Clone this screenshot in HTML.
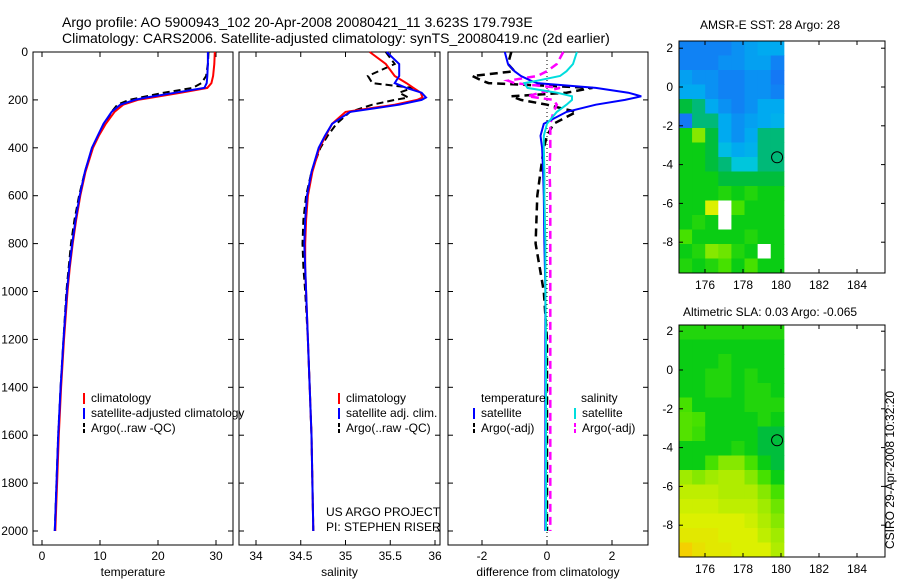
<!DOCTYPE html>
<html><head><meta charset="utf-8"><style>
body{margin:0;background:#fff;width:900px;height:580px;overflow:hidden;font-family:"Liberation Sans",sans-serif}
svg{display:block}
text{font-family:"Liberation Sans",sans-serif;fill:#000}
</style></head><body>
<svg id="c" width="900" height="580"></svg>
<script>
// ---- data ----
const depths=[0,50,100,130,150,170,190,200,220,250,300,350,400,500,600,700,800,900,1000,1200,1400,1600,1800,2000];
const tClim=[29.8,29.7,29.5,29.2,28.5,24,19,16.5,14,12.5,11,9.8,8.8,7.5,6.6,5.9,5.3,4.8,4.4,3.8,3.3,2.9,2.6,2.3];
const tSat=[28.6,28.6,28.5,28.4,28,23,18,16,13.5,12,10.6,9.6,8.6,7.4,6.5,5.8,5.2,4.7,4.3,3.7,3.2,2.8,2.5,2.2];
const tArgo=[28.7,28.6,28.3,27.5,26,21,17,15,13,12,10.8,9.7,8.7,7.4,6.4,5.6,5.0,4.6,4.2,3.7,3.2,2.8,2.5,2.2];
const sClim=[35.27,35.45,35.55,35.68,35.76,35.84,35.86,35.8,35.55,35.0,34.85,34.78,34.71,34.63,34.58,34.56,34.55,34.55,34.56,34.58,34.6,34.62,34.63,34.64];
const sSat=[35.46,35.6,35.6,35.55,35.68,35.85,35.9,35.85,35.6,35.05,34.85,34.77,34.7,34.62,34.57,34.55,34.54,34.55,34.56,34.58,34.6,34.62,34.63,34.64];
const sArgo=[35.45,35.55,35.25,35.3,35.75,35.6,35.7,35.55,35.3,35.05,34.9,34.8,34.72,34.62,34.56,34.53,34.52,34.53,34.55,34.58,34.6,34.62,34.63,34.64];
const dDepths=[0,50,80,100,120,130,150,170,185,200,220,250,300,350,400,500,600,800,1000,1200,1500,2000];
const dTsat=[-1.3,-1.2,-1.0,-0.8,-0.5,-0.3,1.5,2.5,2.9,2.4,1.5,0.6,-0.1,-0.2,-0.15,-0.12,-0.1,-0.08,-0.05,-0.05,-0.05,-0.05];
const dSsat=[0.92,0.8,0.6,0.4,-0.3,-0.7,-0.6,0.3,0.77,0.77,0.6,0.3,0,-0.1,-0.1,-0.08,-0.08,-0.05,-0.05,-0.03,-0.03,-0.03];
const dTargo=[-1.1,-1.2,-1.0,-2.3,-2.0,-1.8,1.4,0.6,-1.1,-0.8,0,0.9,0.2,0,-0.1,-0.2,-0.3,-0.35,-0.1,0,0,0];
const dSargo=[0.5,0.3,0,-0.3,-1.2,-1.0,0.4,-0.2,-0.6,0.2,0.3,0.2,0.1,0.1,0.1,0.08,0.1,0.1,0.1,0.1,0.1,0.1];
const depthTicks=[0,200,400,600,800,1000,1200,1400,1600,1800,2000];
const tTicks=[0,10,20,30];
const sTicks=[34,34.5,35,35.5,36];
const dTicks=[-2,0,2];
// map grids: rows lat 2.3 -> -9.65, cols lon 174.63 -> 180.15; -1 = no data (white)
const sstGrid=[
[.22,.22,.22,.22,.25,.28,.3,.3],
[.22,.22,.22,.25,.25,.28,.28,.22],
[.28,.25,.25,.22,.22,.25,.25,.2],
[.3,.3,.25,.22,.22,.25,.25,.22],
[.48,.45,.3,.25,.22,.25,.3,.3],
[.2,.45,.45,.3,.25,.28,.3,.32],
[.5,.6,.48,.3,.25,.3,.45,.45],
[.5,.5,.48,.35,.3,.32,.45,.45],
[.5,.5,.48,.45,.38,.38,.45,.45],
[.5,.5,.5,.48,.48,.48,.48,.48],
[.5,.5,.5,.52,.5,.52,.5,.5],
[.5,.5,.7,-1,.55,.5,.5,.5],
[.5,.52,.5,-1,.5,.5,.5,.5],
[.55,.5,.5,.5,.5,.52,.5,.5],
[.5,.52,.6,.58,.52,.5,-1,.5],
[.52,.5,.52,.55,.5,.55,.5,.5]];
const slaGrid=[
[.52,.52,.52,.52,.52,.52,.52,.52],
[.5,.5,.5,.5,.5,.5,.5,.5],
[.5,.5,.5,.52,.5,.5,.5,.5],
[.5,.5,.52,.52,.5,.52,.5,.5],
[.5,.5,.52,.52,.5,.52,.52,.5],
[.55,.5,.5,.5,.5,.52,.52,.52],
[.56,.55,.5,.5,.5,.5,.52,.5],
[.56,.54,.5,.5,.5,.5,.48,.48],
[.5,.5,.5,.5,.52,.5,.48,.48],
[.5,.5,.55,.6,.6,.55,.5,.48],
[.62,.6,.62,.64,.64,.6,.55,.5],
[.66,.66,.66,.64,.64,.64,.6,.55],
[.68,.68,.68,.66,.66,.66,.62,.58],
[.7,.7,.7,.7,.7,.68,.64,.6],
[.72,.72,.72,.7,.7,.7,.66,.62],
[.78,.74,.72,.72,.7,.7,.7,.64]];
const lonTicks=[176,178,180,182,184];
const latTicks=[2,0,-2,-4,-6,-8];

// ---- drawing ----
const S=document.getElementById('c');const NS='http://www.w3.org/2000/svg';
function el(t,a,p){const e=document.createElementNS(NS,t);for(const k in a)e.setAttribute(k,a[k]);(p||S).appendChild(e);return e;}
function txt(x,y,s,sz,anchor,p){const e=el('text',{x:x,y:y,'font-size':sz||12,'text-anchor':anchor||'start'},p);e.textContent=s;return e;}
const pTop=52,pBot=545;
const yD=d=>52+d*0.2395;
function panel(name,x0,x1,xf,ticks,fmt,xlabel,showY){
  const g=el('g',{});
  
  
  el('rect',{x:x0,y:pTop,width:x1-x0,height:pBot-pTop,fill:'none',stroke:'#000','stroke-width':1},g);
  ticks.forEach(v=>{const x=xf(v);el('line',{x1:x,x2:x,y1:pBot,y2:pBot-5,stroke:'#000'},g);el('line',{x1:x,x2:x,y1:pTop,y2:pTop+5,stroke:'#000'},g);txt(x,560,fmt(v),12,'middle',g);});
  depthTicks.forEach(d=>{const y=yD(d);el('line',{x1:x0,x2:x0+5,y1:y,y2:y,stroke:'#000'},g);el('line',{x1:x1,x2:x1-5,y1:y,y2:y,stroke:'#000'},g);if(showY)txt(x0-5,y+4,String(d),12,'end',g);});
  const xl=txt((x0+x1)/2,576,xlabel,12,'middle',g);
  return g;
}
function line(g,name,ds,vals,xf,color,dash,w){
  const pts=vals.map((v,i)=>xf(v).toFixed(1)+','+yD(ds[i]).toFixed(1)).join(' ');
  const p=el('polyline',{points:pts,fill:'none',stroke:color,'stroke-width':w||2,'stroke-dasharray':dash||'none'},g);
  
  
}
const xT=v=>42+v*5.8, xS=v=>256+(v-34)*89.5, xDf=v=>547+v*32.5;
const g1=panel('temperature-panel',33,233,xT,tTicks,String,'temperature',true);
line(g1,'temp-argo-line',depths,tArgo,xT,'#000','7,4');
line(g1,'temp-climatology-line',depths,tClim,xT,'#f00');
line(g1,'temp-satellite-line',depths,tSat,xT,'#00f');
const g2=panel('salinity-panel',239,440,xS,sTicks,v=>String(v),'salinity',false);
line(g2,'sal-argo-line',depths,sArgo,xS,'#000','7,4');
line(g2,'sal-climatology-line',depths,sClim,xS,'#f00');
line(g2,'sal-satellite-line',depths,sSat,xS,'#00f');
const g3=panel('difference-panel',448,648,xDf,dTicks,String,'difference from climatology',false);
el('line',{x1:xDf(0),x2:xDf(0),y1:pTop,y2:pBot,stroke:'#000','stroke-dasharray':'1,3'},g3);
line(g3,'dtemp-argo-line',dDepths,dTargo,xDf,'#000','8,5',2.5);
line(g3,'dsal-argo-line',dDepths,dSargo,xDf,'#f0f','8,5',2.5);
line(g3,'dtemp-satellite-line',dDepths,dTsat,xDf,'#00f');
line(g3,'dsal-satellite-line',dDepths,dSsat,xDf,'#0dd');
function leg(g,name,x,y,color,dash,label){const l=el('line',{x1:x,x2:x,y1:y-9,y2:y+2,stroke:color,'stroke-width':2,'stroke-dasharray':dash||'none'},g);const t=txt(x+7,y,label,12,'start',g);}
leg(g1,'legend-climatology',84,402,'#f00','', 'climatology');
leg(g1,'legend-satellite',84,417,'#00f','', 'satellite-adjusted climatology');
leg(g1,'legend-argo',84,432,'#000','4,2','Argo(..raw -QC)');
leg(g2,'legend-sal-climatology',339,402,'#f00','','climatology');
leg(g2,'legend-sal-satellite',339,417,'#00f','','satellite adj. clim.');
leg(g2,'legend-sal-argo',339,432,'#000','4,2','Argo(..raw -QC)');
txt(481,402,'temperature',12,'start',g3);txt(581,402,'salinity',12,'start',g3);
leg(g3,'legend-dtemp-satellite',474,417,'#00f','','satellite');
leg(g3,'legend-dtemp-argo',474,432,'#000','4,2','Argo(-adj)');
leg(g3,'legend-dsal-satellite',575,417,'#0dd','','satellite');
leg(g3,'legend-dsal-argo',575,432,'#f0f','4,2','Argo(-adj)');
txt(326,516,'US ARGO PROJECT',12,'start',g2);txt(326,531,'PI: STEPHEN RISER',12,'start',g2);
const t1=txt(62,27,'Argo profile: AO 5900943_102 20-Apr-2008 20080421_11 3.623S 179.793E',14);
const t2=txt(62,43,'Climatology: CARS2006. Satellite-adjusted climatology: synTS_20080419.nc (2d earlier)',14);
const stops=[[0,[0,60,220]],[.2,[20,120,245]],[.3,[0,170,240]],[.4,[0,205,215]],[.45,[0,185,120]],[.48,[0,190,60]],[.5,[10,205,20]],[.55,[70,225,0]],[.62,[160,235,0]],[.7,[220,240,0]],[.8,[250,200,0]],[1,[230,60,0]]];
function cmap(v){if(v<0)return '#fff';for(let i=1;i<stops.length;i++){if(v<=stops[i][0]){const a=stops[i-1],b=stops[i],f=(v-a[0])/(b[0]-a[0]);return 'rgb('+a[1].map((c,k)=>Math.round(c+(b[1][k]-c)*f)).join(',')+')';}}return 'rgb(230,60,0)';}
function drawMap(name,y0,y1,lat0,grid,title,titleY){
  const g=el('g',{});
  
  
  const x0=679,x1=885;
  const xL=lon=>705+(lon-176)*19, yL=lat=>lat0-lat*19.4;
  const lonA=174.63,lonB=180.15,latA=(lat0-y0)/19.4,latB=(lat0-y1)/19.4;
  const rows=grid.length,cols=grid[0].length,cw=(lonB-lonA)/cols,rh=(latA-latB)/rows;
  grid.forEach((r,i)=>r.forEach((v,j)=>{const c=el('rect',{x:xL(lonA+j*cw),y:yL(latA-i*rh),width:xL(lonA+(j+1)*cw)-xL(lonA+j*cw)+0.5,height:yL(latA-(i+1)*rh)-yL(latA-i*rh)+0.5,fill:cmap(v)},g);
    
    }));
  el('rect',{x:x0,y:y0,width:x1-x0,height:y1-y0,fill:'none',stroke:'#000'},g);
  lonTicks.forEach(l=>{const x=xL(l);el('line',{x1:x,x2:x,y1:y1,y2:y1-4,stroke:'#000'},g);el('line',{x1:x,x2:x,y1:y0,y2:y0+4,stroke:'#000'},g);txt(x,y1+16,String(l),12,'middle',g);});
  latTicks.forEach(l=>{const y=yL(l);el('line',{x1:x0,x2:x0+4,y1:y,y2:y,stroke:'#000'},g);el('line',{x1:x1,x2:x1-4,y1:y,y2:y,stroke:'#000'},g);txt(x0-6,y+4,String(l),12,'end',g);});
  const c=el('circle',{cx:xL(179.793),cy:yL(-3.623),r:5.5,fill:'none',stroke:'#000','stroke-width':1},g);
  const t=txt(770,titleY,title,12,'middle',g);
}
drawMap('sst-map',41,273,87,sstGrid,'AMSR-E SST: 28 Argo: 28',29);
drawMap('sla-map',325,557,370,slaGrid,'Altimetric SLA: 0.03 Argo: -0.065',316);
const v=txt(0,0,'CSIRO 29-Apr-2008 10:32:20',12,'middle');v.setAttribute('transform','translate(894,470) rotate(-90)');
</script>
</body></html>
